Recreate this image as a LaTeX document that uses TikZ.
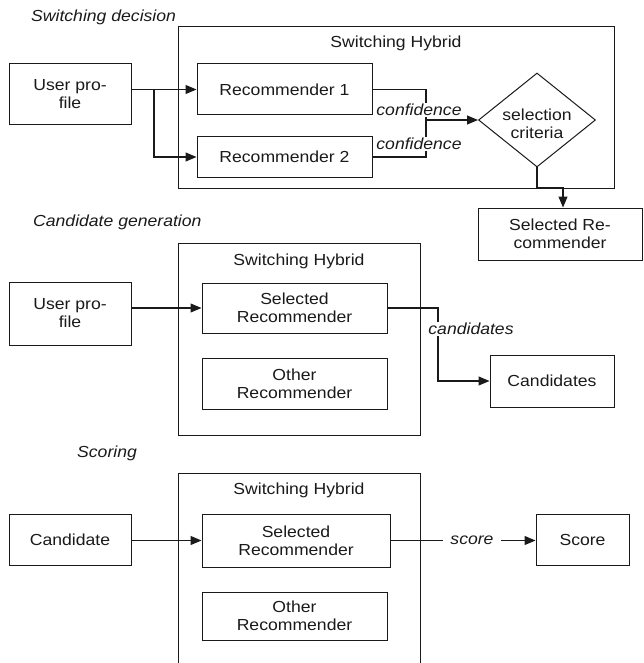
\documentclass[tikz,border=0pt]{standalone}
\usepackage{fontspec}
\setmainfont{Liberation Sans}[FakeStretch=1.1]
\usetikzlibrary{arrows.meta,shapes.geometric}
\definecolor{ink}{HTML}{1A1A1A}
\begin{document}
\begin{tikzpicture}[x=1pt,y=-1pt,
  font=\fontsize{16}{18}\selectfont, text=ink,
  box/.style={draw=ink, line width=1pt, rectangle, inner sep=0pt, align=center},
  frame/.style={draw=ink, line width=1pt, rectangle, inner sep=0pt},
  link/.style={draw=ink, line width=1.1pt},
  arr/.style={link, -{Triangle[length=11pt,width=9pt]}},
  lbl/.style={font=\fontsize{16}{18}\selectfont\itshape, fill=white, inner sep=1pt},
  head/.style={font=\fontsize{16}{18}\selectfont\itshape, anchor=west, inner sep=0pt},
  ttl/.style={inner sep=0pt, align=center}]
\clip (0,0) rectangle (643,663);

% ---------- Switching decision ----------
\node[head] (hdrA) at (31,17) {Switching decision};
\node[frame, minimum width=436pt, minimum height=161pt] (hybA) at (396,107.5) {};
\node[ttl] (hybAt) at (396,43) {Switching Hybrid};
\node[box, minimum width=122pt, minimum height=61pt] (upA) at (70,94.5) {User pro-\\file};
\node[box, minimum width=175pt, minimum height=51pt] (r1) at (284.5,89.5) {Recommender 1};
\node[box, minimum width=175pt, minimum height=40pt] (r2) at (284.5,157) {Recommender 2};
\node[diamond, draw=ink, line width=1pt, inner sep=0pt, aspect=1.245,
      minimum width=117pt, minimum height=94pt] (sel) at (537,120) {};
\node[ttl] (selt) at (537,124) {selection\\criteria};
\node[box, minimum width=164pt, minimum height=52pt] (selA) at (560,234) {Selected Re-\\commender};

\coordinate (brA) at (154,89.5);
\coordinate (jA) at (426,120);
\coordinate (kA) at (563,188);
\draw[arr] (r1.west -| upA.east) -- (r1.west);
\draw[arr] (brA) |- (r2.west);
\draw[link] (r1.east) -| (jA);
\draw[link] (r2.east) -| (jA);
\draw[arr] (jA) -- (sel.west);
\node[lbl] (cf1) at (419,110) {confidence};
\node[lbl] (cf2) at (419,144) {confidence};
\draw[arr] (sel.south) |- (kA) -- (kA |- selA.north);

% ---------- Candidate generation ----------
\node[head] (hdrB) at (33,222) {Candidate generation};
\node[frame, minimum width=242pt, minimum height=192pt] (hybB) at (299,339) {};
\node[ttl] (hybBt) at (299,261) {Switching Hybrid};
\node[box, minimum width=122pt, minimum height=63pt] (upB) at (70,313.5) {User pro-\\file};
\node[box, minimum width=185pt, minimum height=50pt] (selB) at (294.5,308) {Selected\\Recommender};
\node[box, minimum width=185pt, minimum height=51pt] (othB) at (294.5,383.5) {Other\\Recommender};
\node[box, minimum width=124pt, minimum height=52pt] (candB) at (552,381) {Candidates};

\coordinate (jB) at (438,381);
\draw[arr] (selB.west -| upB.east) -- (selB.west);
\draw[arr] (selB.east) -| (jB) -- (candB.west);
\node[lbl] (cdl) at (471,329) {candidates};

% ---------- Scoring ----------
\node[head] (hdrC) at (77,453) {Scoring};
\node[frame, minimum width=242pt, minimum height=230pt] (hybC) at (299,588) {};
\node[ttl] (hybCt) at (299,490) {Switching Hybrid};
\node[box, minimum width=122pt, minimum height=51pt] (candC) at (70,539.5) {Candidate};
\node[box, minimum width=188pt, minimum height=53pt] (selC) at (296,540.5) {Selected\\Recommender};
\node[box, minimum width=185pt, minimum height=48pt] (othC) at (294.5,616) {Other\\Recommender};
\node[box, minimum width=93pt, minimum height=51pt] (scoreC) at (582.5,539.5) {Score};

\draw[arr] (selC.west -| candC.east) -- (selC.west);
\node[lbl, fill=none, inner sep=0pt, minimum width=58pt] (sc) at (472,540.5) {score};
\draw[link] (selC.east) -- (sc.west);
\draw[arr] (sc.east) -- (scoreC.west |- sc.east);
\end{tikzpicture}
\end{document}
